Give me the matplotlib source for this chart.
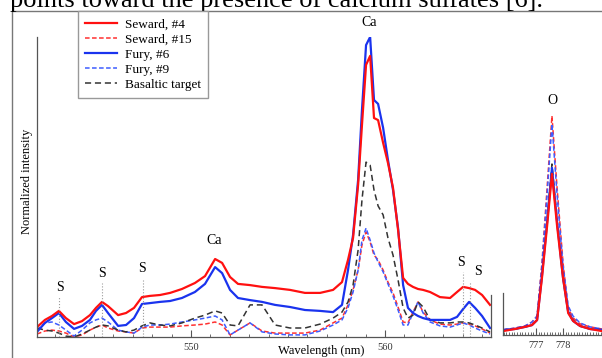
import matplotlib
matplotlib.use("Agg")
import matplotlib.pyplot as plt
from matplotlib.lines import Line2D
from matplotlib.ticker import MultipleLocator

plt.rcParams["font.family"] = ["Liberation Serif", "DejaVu Serif"]

# -------------------------------
# 1. Data (normalized intensity in %)
# -------------------------------
wl = [542.06, 542.47, 542.83, 543.19, 543.55, 543.97, 544.38, 544.79, 545.10, 545.41,
      545.72, 546.24, 546.65, 547.06, 547.47, 547.88, 548.40, 548.92, 549.53, 550.20,
      550.72, 551.24, 551.60, 552.01, 552.42, 553.04, 553.66, 554.33, 555.10, 555.87,
      556.65, 557.32, 557.78, 558.09, 558.35, 558.61, 558.81, 559.02, 559.23, 559.43,
      559.64, 559.90, 560.15, 560.41, 560.67, 560.93, 561.18, 561.44, 561.70, 561.96,
      562.32, 562.83, 563.35, 563.71, 564.02, 564.33, 564.64, 565.00, 565.41]

seward_4 = [3.3, 5.7, 7.0, 8.7, 6.3, 4.3, 5.3, 7.3, 9.7, 11.7,
            10.3, 7.3, 8.0, 9.7, 13.3, 13.7, 14.0, 14.7, 16.0, 18.0,
            20.3, 26.0, 24.7, 20.0, 17.7, 17.3, 16.7, 16.3, 15.7, 14.7,
            14.7, 15.7, 18.3, 25.7, 33.0, 50.7, 70.7, 90.7, 93.7, 73.0,
            72.3, 64.7, 58.0, 49.7, 35.7, 19.7, 17.7, 16.7, 16.0, 15.7,
            15.0, 13.3, 13.0, 15.0, 16.7, 16.3, 15.7, 14.0, 10.7]

seward_15 = [1.0, 2.0, 2.3, 2.0, 1.3, 0.0, 0.7, 2.3, 3.3, 4.0,
             3.0, 2.0, 1.7, 1.3, 3.0, 3.3, 3.3, 3.3, 3.7, 4.0,
             4.3, 5.0, 4.0, 0.7, 2.3, 4.7, 2.0, 1.3, 1.3, 1.3,
             2.3, 4.7, 6.3, 10.7, 15.7, 22.3, 30.7, 35.0, 31.7, 27.3,
             25.7, 22.3, 18.3, 14.7, 10.0, 5.0, 4.7, 8.3, 11.7, 8.3,
             5.7, 4.3, 4.0, 4.3, 4.7, 4.3, 3.7, 2.7, 1.3]

fury_6 = [1.7, 4.7, 6.3, 8.0, 5.0, 2.7, 3.7, 5.7, 8.7, 10.7,
          8.0, 3.7, 4.0, 6.3, 11.0, 11.3, 11.7, 12.0, 13.0, 15.0,
          17.7, 23.3, 21.3, 15.7, 13.0, 12.3, 11.7, 10.7, 10.0, 9.0,
          8.7, 8.3, 10.7, 22.3, 34.0, 52.3, 75.7, 97.3, 100.0, 79.0,
          77.7, 69.7, 59.0, 49.0, 36.3, 17.3, 9.7, 8.0, 7.0, 6.3,
          5.7, 5.7, 5.7, 6.7, 9.3, 11.7, 9.7, 7.0, 3.0]

fury_9 = [2.3, 4.7, 5.0, 4.0, 2.3, 0.3, 2.3, 4.7, 5.7, 6.3,
          5.0, 2.3, 1.7, 1.3, 3.3, 4.0, 4.0, 4.3, 5.0, 5.7,
          6.3, 7.0, 5.7, 0.7, 2.3, 4.7, 1.7, 1.0, 0.7, 0.7,
          2.0, 4.0, 5.7, 9.7, 15.0, 22.3, 32.3, 36.3, 32.3, 28.0,
          25.0, 21.7, 17.7, 13.7, 9.0, 4.0, 4.0, 8.0, 11.7, 8.0,
          5.0, 3.7, 3.3, 4.0, 4.7, 4.0, 3.0, 2.0, 1.0]

basaltic = [3.0, 2.3, 2.0, 1.3, 0.3, 0.0, 1.0, 2.3, 3.3, 4.0,
            3.7, 2.3, 1.7, 2.3, 3.7, 4.7, 4.0, 3.7, 4.7, 6.3,
            7.3, 8.7, 8.0, 4.0, 3.7, 10.7, 10.7, 4.0, 3.0, 3.0,
            4.3, 6.3, 8.3, 11.7, 17.3, 29.0, 45.7, 58.3, 57.3, 49.0,
            43.7, 40.7, 33.0, 27.3, 19.0, 9.7, 6.3, 7.3, 11.7, 10.0,
            5.7, 4.7, 4.7, 5.0, 5.0, 4.7, 4.0, 3.0, 1.7]

# oxygen window (nm)
wl_o = [775.78, 776.22, 776.59, 776.85, 777.04, 777.22, 777.41, 777.59,
        777.78, 778.00, 778.19, 778.37, 778.63, 779.00, 779.44]
seward_4_o = [1.3, 2.0, 2.7, 3.3, 5.0, 19.0, 36.3, 53.7, 36.3, 19.0, 7.3, 4.7, 3.0, 2.0, 1.3]
seward_15_o = [1.7, 2.3, 3.0, 4.3, 6.3, 24.0, 49.0, 73.0, 49.0, 24.0, 9.0, 5.7, 3.7, 2.7, 2.0]
fury_6_o = [1.7, 2.0, 2.7, 3.3, 5.0, 19.7, 37.7, 55.7, 37.7, 19.0, 7.7, 4.7, 3.0, 2.0, 1.7]
fury_9_o = [1.7, 2.3, 3.0, 4.3, 6.3, 23.0, 46.7, 70.3, 46.7, 23.0, 9.7, 6.3, 4.0, 2.7, 2.0]
basaltic_o = [1.7, 2.0, 2.7, 3.3, 5.0, 19.7, 38.3, 57.0, 38.3, 19.0, 7.7, 5.0, 3.0, 2.0, 1.7]

# S lines: wavelength, top of dotted line
s_lines = [543.2, 545.4, 547.5, 564.0, 564.4]
s_tops = [13.3, 18.0, 19.0, 21.7, 18.3]
s_label_x = [543.25, 545.41, 547.47, 563.92, 564.80]
s_label_y = [16.5, 21.3, 23.0, 24.7, 21.7]

# -------------------------------
# 2. Figure layout
# -------------------------------
W, H = 602, 358
fig = plt.figure(figsize=(W / 100, H / 100), dpi=100)


def px_box(x0, y0, x1, y1):
    return [x0 / W, 1 - y1 / H, (x1 - x0) / W, (y1 - y0) / H]


ax = fig.add_axes(px_box(37, 37, 491, 337))
ax_o = fig.add_axes(px_box(503, 35, 602, 335))

styles = {
    "Seward, #4": dict(color="#ff1010", lw=1.6, ls="-"),
    "Seward, #15": dict(color="#ff3030", lw=1.1, ls=(0, (3, 1.6))),
    "Fury, #6": dict(color="#1a33ee", lw=1.6, ls="-"),
    "Fury, #9": dict(color="#3d5cff", lw=1.1, ls=(0, (3, 1.6))),
    "Basaltic target": dict(color="#333333", lw=1.1, ls=(0, (4, 2.5))),
}
main_series = [seward_15, fury_9, basaltic, fury_6, seward_4]
o_series = [seward_15_o, fury_9_o, basaltic_o, fury_6_o, seward_4_o]
names = ["Seward, #15", "Fury, #9", "Basaltic target", "Fury, #6", "Seward, #4"]

for name, ys, ys_o in zip(names, main_series, o_series):
    ax.plot(wl, ys, **styles[name])
    ax_o.plot(wl_o, ys_o, **styles[name])

for x, top in zip(s_lines, s_tops):
    ax.plot([x, x], [0, top], color="#999999", lw=0.8, ls=":")
for x, y in zip(s_label_x, s_label_y):
    ax.text(x, y, "S", ha="center", va="center", fontsize=10)

ax.text(551.2, 32.3, "Ca", ha="center", va="center", fontsize=10)
ax.text(559.2, 105, "Ca", ha="center", va="center", fontsize=10, clip_on=False)
ax_o.text(777.59, 78.3, "O", ha="center", va="center", fontsize=10)

# -------------------------------
# 3. Axes styling
# -------------------------------
spine_c = "#555555"
ax.set_xlim(542.06, 565.46)
ax.set_ylim(0, 100)
ax_o.set_xlim(775.78, 779.44)
ax_o.set_ylim(0, 100)

for a in (ax, ax_o):
    a.spines["top"].set_visible(False)
    for s in ("left", "bottom", "right"):
        a.spines[s].set_color(spine_c)
        a.spines[s].set_linewidth(0.9)
    a.set_yticks([])
    a.tick_params(axis="x", which="major", direction="in", length=5, width=0.8,
                  color=spine_c, labelsize=7.5, labelcolor="#333333", pad=4)
    a.tick_params(axis="x", which="minor", direction="in", length=2.5, width=0.6,
                  color=spine_c)

ax.spines["right"].set_bounds(0, 14)
ax_o.spines["left"].set_bounds(0, 14)
ax_o.spines["right"].set_visible(False)

ax.set_xticks([550, 560])
ax.xaxis.set_minor_locator(MultipleLocator(1))
ax_o.set_xticks([777, 778])
ax_o.xaxis.set_minor_locator(MultipleLocator(0.1))

fig.text(321 / W, 1 - 351 / H, "Wavelength (nm)", ha="center", va="center", fontsize=9)
fig.text(27 / W, 1 - 181 / H, "Normalized intensity", ha="center", va="center",
         rotation=90, fontsize=9)

# cropped caption line and page frame
fig.text(10 / W, 1 - 7 / H, "points toward the presence of calcium sulfates [6].",
         ha="left", va="baseline", fontsize=19)
fig.add_artist(Line2D([12 / W, 1], [1 - 11 / H, 1 - 11 / H], color="#777777", lw=1.0))
fig.add_artist(Line2D([12 / W, 12 / W], [0, 1 - 11 / H], color="#777777", lw=1.0))

legend_names = ["Seward, #4", "Seward, #15", "Fury, #6", "Fury, #9", "Basaltic target"]
handles = [Line2D([], [], **styles[n]) for n in legend_names]
leg = fig.legend(handles, legend_names,
                 loc="upper left", bbox_to_anchor=(78 / W, 1 - 11 / H),
                 borderaxespad=0, fontsize=9.5, handlelength=2.4, handletextpad=0.6,
                 labelspacing=0.22, borderpad=0.55, fancybox=False, framealpha=1,
                 edgecolor="#999999")
leg.get_frame().set_linewidth(1.0)

fig.savefig("out.png", dpi=100)
